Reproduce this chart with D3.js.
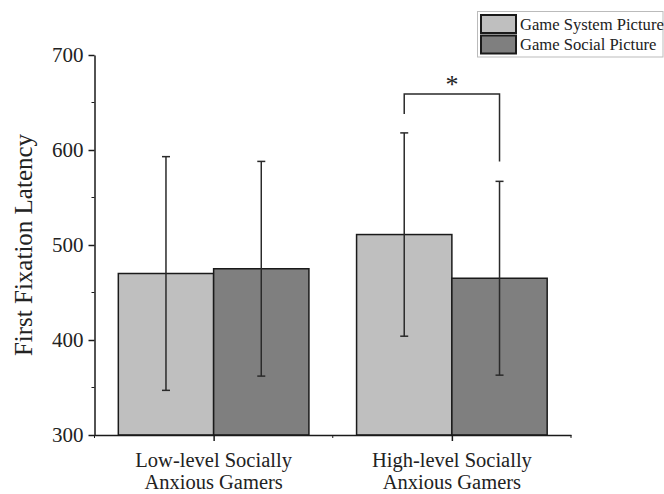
<!DOCTYPE html>
<html>
<head>
<meta charset="utf-8">
<script src="https://cdn.jsdelivr.net/npm/d3@7"></script>
<style>
  html, body { margin: 0; padding: 0; background: #fff; }
  svg { display: block; font-family: "Liberation Serif", "Times New Roman", serif; }
</style>
</head>
<body>
<svg id="chart" width="664" height="494"></svg>
<script>
const groups = ['Low-level Socially|Anxious Gamers', 'High-level Socially|Anxious Gamers'];
const seriesNames = ['Game System Picture', 'Game Social Picture'];
const seriesColors = ['#bfbfbf', '#7f7f7f'];
const means = [[470, 475], [511, 465]];
const sds = [[123, 113], [107, 102]];
const yTicks = [300, 400, 500, 600, 700];
const yMinor = [350, 450, 550, 650];
const bracket = {group: 1, top: 659, left: 638, right: 588, label: '*'};

const svg = d3.select('#chart');

const x = d3.scaleLinear().domain([0.5, 2.5]).range([94.5, 571]);
const y = d3.scaleLinear().domain([300, 700]).range([435, 55]);
const barW = x(1.4) - x(1);

// bars
const bars = [];
means.forEach((row, g) => row.forEach((v, s) => {
  bars.push({g, s, v, sd: sds[g][s], x0: x(g + 1) - barW + s * barW});
}));

svg.append('g').selectAll('rect').data(bars).join('rect')
  .attr('x', d => d.x0)
  .attr('y', d => y(d.v))
  .attr('width', barW)
  .attr('height', d => y(300) - y(d.v))
  .attr('fill', d => seriesColors[d.s])
  .attr('stroke', '#1a1a1a')
  .attr('stroke-width', 1.5);

// error bars
const err = svg.append('g').attr('stroke', '#2a2a2a').attr('stroke-width', 1.5);
bars.forEach(d => {
  const cx = d.x0 + barW / 2;
  err.append('line').attr('x1', cx).attr('x2', cx).attr('y1', y(d.v + d.sd)).attr('y2', y(d.v - d.sd));
  [d.v + d.sd, d.v - d.sd].forEach(v => {
    err.append('line').attr('x1', cx - 4).attr('x2', cx + 4).attr('y1', y(v)).attr('y2', y(v));
  });
});

// significance bracket
const bl = x(bracket.group + 1) - barW / 2;
const br = x(bracket.group + 1) + barW / 2;
svg.append('path')
  .attr('d', `M${bl},${y(bracket.left)}V${y(bracket.top)}H${br}V${y(bracket.right)}`)
  .attr('fill', 'none').attr('stroke', '#2a2a2a').attr('stroke-width', 1.5);
svg.append('text')
  .attr('x', (bl + br) / 2).attr('y', y(bracket.top) - 1)
  .attr('text-anchor', 'middle').attr('font-size', 26).attr('fill', '#222')
  .text(bracket.label);

// y axis
const yAxis = svg.append('g').attr('transform', `translate(${x(0.5)},0)`)
  .call(d3.axisLeft(y).tickValues(yTicks).tickSize(6).tickSizeOuter(0).tickPadding(5));
yAxis.append('g').selectAll('line').data(yMinor).join('line')
  .attr('x1', -3).attr('x2', 0).attr('y1', d => y(d)).attr('y2', d => y(d))
  .attr('stroke', '#1a1a1a');

// x axis
const xAxis = svg.append('g').attr('transform', `translate(0,${y(300)})`)
  .call(d3.axisBottom(x).tickValues([1, 2]).tickSize(6).tickSizeOuter(0).tickFormat(''));
xAxis.append('g').selectAll('line').data([0.5, 1.5, 2.5]).join('line')
  .attr('x1', d => x(d)).attr('x2', d => x(d)).attr('y1', 0).attr('y2', 3)
  .attr('stroke', '#1a1a1a');

[yAxis, xAxis].forEach(a => {
  a.select('.domain').attr('stroke', '#1a1a1a').attr('stroke-width', 1.5);
  a.selectAll('.tick line').attr('stroke', '#1a1a1a').attr('stroke-width', 1.5);
});
yAxis.selectAll('text').attr('font-size', 21).attr('fill', '#222')
  .attr('font-family', '"Liberation Serif", "Times New Roman", serif');

// category labels, one text per line
groups.forEach((label, g) => {
  label.split('|').forEach((line, i) => {
    svg.append('text')
      .attr('x', x(g + 1)).attr('y', 467 + i * 22)
      .attr('text-anchor', 'middle').attr('font-size', 20.5).attr('fill', '#222')
      .text(line);
  });
});

// y title
svg.append('text')
  .attr('transform', `translate(32,${y(500)}) rotate(-90)`)
  .attr('text-anchor', 'middle').attr('font-size', 25).attr('fill', '#222')
  .text('First Fixation Latency');

// legend
const legend = svg.append('g');
legend.append('rect')
  .attr('x', 477.5).attr('y', 11.5).attr('width', 185.5).attr('height', 45.5)
  .attr('fill', '#fff').attr('stroke', '#bbb').attr('stroke-width', 1);
seriesNames.forEach((name, i) => {
  legend.append('rect')
    .attr('x', 481).attr('y', 15 + i * 20.5).attr('width', 35).attr('height', 18)
    .attr('fill', seriesColors[i]).attr('stroke', '#1a1a1a').attr('stroke-width', 2);
  legend.append('text')
    .attr('x', 520).attr('y', 24 + i * 20.5).attr('dy', '0.35em')
    .attr('font-size', 16.6).attr('fill', '#222')
    .text(name);
});
</script>
</body>
</html>
